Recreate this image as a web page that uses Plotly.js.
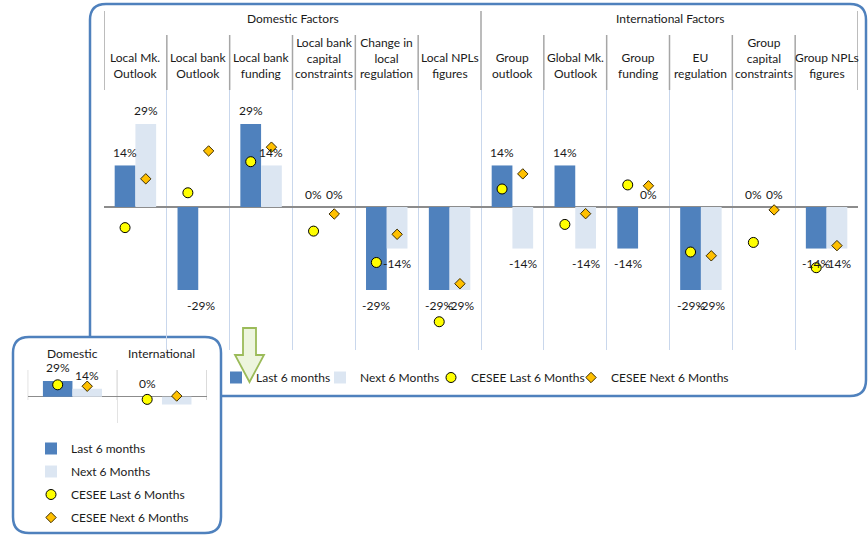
<!DOCTYPE html>
<html>
<head>
<meta charset="utf-8">
<script src="https://cdn.plot.ly/plotly-3.0.1.min.js"></script>
<style>html,body{margin:0;padding:0;background:#fff;}#chart{width:868px;height:535px;}</style>
</head>
<body>
<div id="chart"></div>
<script>
// ---------- data ----------
const groups = ["Domestic Factors", "International Factors"];
const categories = [
  "Local Mk.<br>Outlook", "Local bank<br>Outlook", "Local bank<br>funding",
  "Local bank<br>capital<br>constraints", "Change in<br>local<br>regulation", "Local NPLs<br>figures",
  "Group<br>outlook", "Global Mk.<br>Outlook", "Group<br>funding",
  "EU<br>regulation", "Group<br>capital<br>constraints", "Group NPLs<br>figures"
];
const last6 = [0.143, -0.286, 0.286, 0, -0.286, -0.286, 0.143, 0.143, -0.143, -0.286, 0, -0.143];
const next6 = [0.286, null, 0.143, 0, -0.143, -0.286, -0.143, -0.143, 0, -0.286, 0, -0.143];
const ceseeLast = [-0.071, 0.049, 0.156, -0.083, -0.191, -0.395, 0.062, -0.060, 0.076, -0.155, -0.122, -0.209];
const ceseeNext = [0.097, 0.193, 0.206, -0.024, -0.094, -0.264, 0.114, -0.023, 0.073, -0.168, -0.010, -0.133];

const insetCats = ["Domestic", "International"];
const insetLast = [0.286, 0];
const insetNext = [0.143, -0.143];
const insetCeseeLast = [0.216, -0.049];
const insetCeseeNext = [0.190, 0.012];
const insetNextLabelShown = [true, false];

const seriesNames = ["Last 6 months", "Next 6 Months", "CESEE Last 6 Months", "CESEE Next 6 Months"];

// ---------- layout helpers ----------
const W = 868, H = 535;
const FONT = "Lato, 'Open Sans', sans-serif";
const TXT = "#1a1a1a";
const px = x => x / W;
const py = y => 1 - y / H;
const BARGAP = 0.34;
const OFF = (1 - BARGAP) / 4; // centre offset of each of the two grouped bars
const idx = categories.map((_, i) => i);
const idx2 = insetCats.map((_, i) => i);
const pct = v => Math.round(v * 100) + "%";

function roundRect(x0, y0, x1, y1, r) {
  const X = px, Y = py;
  return `M ${X(x0 + r)} ${Y(y0)} L ${X(x1 - r)} ${Y(y0)} Q ${X(x1)} ${Y(y0)} ${X(x1)} ${Y(y0 + r)} ` +
    `L ${X(x1)} ${Y(y1 - r)} Q ${X(x1)} ${Y(y1)} ${X(x1 - r)} ${Y(y1)} ` +
    `L ${X(x0 + r)} ${Y(y1)} Q ${X(x0)} ${Y(y1)} ${X(x0)} ${Y(y1 - r)} ` +
    `L ${X(x0)} ${Y(y0 + r)} Q ${X(x0)} ${Y(y0)} ${X(x0 + r)} ${Y(y0)} Z`;
}

const C_LAST = "#4F81BD", C_NEXT = "#DCE6F2";
const circle = {symbol: "circle", size: 10, color: "#FFFF00", line: {color: "#000000", width: 1}};
const diamond = {symbol: "diamond", size: 8, color: "#FFC000", line: {color: "#3a2a00", width: 1}};

// main legend entries each get their own legend box (legend, legend3, legend4, legend5)
const mainLegends = ["legend", "legend3", "legend4", "legend5"];
const traces = [
  {type: "bar", x: idx, y: last6, name: seriesNames[0], marker: {color: C_LAST}, xaxis: "x", yaxis: "y", legend: mainLegends[0], hoverinfo: "skip"},
  {type: "bar", x: idx, y: next6, name: seriesNames[1], marker: {color: C_NEXT}, xaxis: "x", yaxis: "y", legend: mainLegends[1], hoverinfo: "skip"},
  {type: "scatter", mode: "markers", x: idx.map(i => i - OFF), y: ceseeLast, name: seriesNames[2], marker: circle, xaxis: "x", yaxis: "y", legend: mainLegends[2], hoverinfo: "skip"},
  {type: "scatter", mode: "markers", x: idx.map(i => i + OFF), y: ceseeNext, name: seriesNames[3], marker: diamond, xaxis: "x", yaxis: "y", legend: mainLegends[3], hoverinfo: "skip"},
  {type: "bar", x: idx2, y: insetLast, name: seriesNames[0], marker: {color: C_LAST}, xaxis: "x2", yaxis: "y2", legend: "legend2", legendgroup: "i1", hoverinfo: "skip"},
  {type: "bar", x: idx2, y: insetNext, name: seriesNames[1], marker: {color: C_NEXT}, xaxis: "x2", yaxis: "y2", legend: "legend2", legendgroup: "i2", hoverinfo: "skip"},
  {type: "scatter", mode: "markers", x: idx2.map(i => i - OFF), y: insetCeseeLast, name: seriesNames[2], marker: circle, xaxis: "x2", yaxis: "y2", legend: "legend2", legendgroup: "i3", hoverinfo: "skip"},
  {type: "scatter", mode: "markers", x: idx2.map(i => i + OFF), y: insetCeseeNext, name: seriesNames[3], marker: diamond, xaxis: "x2", yaxis: "y2", legend: "legend2", legendgroup: "i4", hoverinfo: "skip"}
];

// ---------- annotations ----------
const ann = [];
const labelNudge = {"last-1": 13};
function addBarLabels(vals, off, key, xr, yr, shown) {
  vals.forEach((v, i) => {
    if (v === null || (shown && !shown[i])) return;
    ann.push({x: i + off, y: v, xref: xr, yref: yr, text: pct(v), showarrow: false,
      xshift: labelNudge[key + "-" + i] || 0, yshift: v >= 0 ? 13 : -15,
      font: {family: FONT, size: 12, color: TXT}});
  });
}
addBarLabels(last6, -OFF, "last", "x", "y");
addBarLabels(next6, OFF, "next", "x", "y");
addBarLabels(insetLast, -OFF, "ilast", "x2", "y2");
addBarLabels(insetNext, OFF, "inext", "x2", "y2", insetNextLabelShown);

categories.forEach((c, i) => ann.push({x: i, xref: "x", y: py(83.5), yref: "paper", yanchor: "bottom",
  text: c, showarrow: false, font: {family: FONT, size: 12, color: TXT}}));
groups.forEach((g, k) => ann.push({x: 2.5 + 6 * k, xref: "x", y: py(19), yref: "paper", yanchor: "middle",
  text: g, showarrow: false, font: {family: FONT, size: 12, color: TXT}}));
insetCats.forEach((c, i) => ann.push({x: i, xref: "x2", y: py(353), yref: "paper", yanchor: "middle",
  text: c, showarrow: false, font: {family: FONT, size: 12, color: TXT}}));

// ---------- shapes ----------
const shapes = [
  {type: "path", path: roundRect(90, 4, 866, 396, 16), xref: "paper", yref: "paper", fillcolor: "#ffffff", line: {color: "#4F81BD", width: 2.5}, layer: "below"},
  {type: "path", path: roundRect(13, 337, 221, 533, 16), xref: "paper", yref: "paper", fillcolor: "#ffffff", line: {color: "#4F81BD", width: 2.5}, layer: "below"}
];
// header separators
for (let b = 0; b <= categories.length; b++) {
  const isGroup = (b % 6 === 0);
  shapes.push({type: "line", xref: "x", yref: "paper", x0: b - 0.5, x1: b - 0.5,
    y0: py(isGroup ? 11 : 35), y1: py(90), line: {color: "#A6A6A6", width: 1.5}, layer: "below"});
}
for (let b = 0; b <= insetCats.length; b++) {
  shapes.push({type: "line", xref: "x2", yref: "paper", x0: b - 0.5, x1: b - 0.5,
    y0: py(370), y1: py(400), line: {color: "#BFBFBF", width: 1}, layer: "below"});
}
// green down arrow
const arrowPts = [[243, 328], [256, 328], [256, 355], [264, 355], [249.5, 382], [235, 355], [243, 355]];
shapes.push({type: "path", xref: "paper", yref: "paper", layer: "above",
  path: "M " + arrowPts.map(p => px(p[0]) + " " + py(p[1])).join(" L ") + " Z",
  fillcolor: "rgba(235,244,218,0.9)", line: {color: "#9BBB59", width: 1.8}});

const legFont = {family: FONT, size: 12, color: TXT};
function mainLegend(textX) {
  return {orientation: "h", x: px(textX - 40), y: py(363), xanchor: "left", yanchor: "top",
    bgcolor: "rgba(0,0,0,0)", font: legFont, itemclick: false, itemdoubleclick: false};
}
const mainLegendTextX = [256, 360, 471, 611];

const layout = {
  width: W, height: H,
  margin: {l: 0, r: 0, t: 0, b: 0},
  paper_bgcolor: "#ffffff", plot_bgcolor: "rgba(0,0,0,0)",
  font: {family: FONT, size: 12, color: TXT},
  barmode: "group", bargap: BARGAP, bargroupgap: 0,
  xaxis: {domain: [px(104), px(858)], range: [-0.5, categories.length - 0.5], anchor: "y",
    tickmode: "array", tickvals: idx.concat([categories.length]).map(i => i - 0.5), showticklabels: false, ticks: "",
    showgrid: true, gridcolor: "#C9D7EC", gridwidth: 1, zeroline: false, showline: false, fixedrange: true},
  yaxis: {domain: [py(350), py(90)], range: [-0.4923, 0.4028], anchor: "x",
    showgrid: false, showticklabels: false, ticks: "", zeroline: true, zerolinecolor: "#8C8C8C", zerolinewidth: 2, showline: false, fixedrange: true},
  xaxis2: {domain: [px(27.7), px(206.7)], range: [-0.5, insetCats.length - 0.5], anchor: "y2",
    tickmode: "array", tickvals: idx2.concat([insetCats.length]).map(i => i - 0.5), showticklabels: false, ticks: "",
    showgrid: true, gridcolor: "#E3E3E3", gridwidth: 1, zeroline: false, showline: false, fixedrange: true},
  yaxis2: {domain: [py(423), py(370)], range: [-0.478, 0.485], anchor: "x2",
    showgrid: false, showticklabels: false, ticks: "", zeroline: true, zerolinecolor: "#8C8C8C", zerolinewidth: 1.5, showline: false, fixedrange: true},
  showlegend: true,
  legend: mainLegend(mainLegendTextX[0]),
  legend3: mainLegend(mainLegendTextX[1]),
  legend4: mainLegend(mainLegendTextX[2]),
  legend5: mainLegend(mainLegendTextX[3]),
  legend2: {orientation: "v", x: px(31), y: py(434), xanchor: "left", yanchor: "top", traceorder: "grouped",
    bgcolor: "rgba(0,0,0,0)", font: legFont, itemclick: false, itemdoubleclick: false, tracegroupgap: 4},
  annotations: ann,
  shapes: shapes
};

Plotly.newPlot("chart", traces, layout, {displayModeBar: false, staticPlot: true});
</script>
</body>
</html>
